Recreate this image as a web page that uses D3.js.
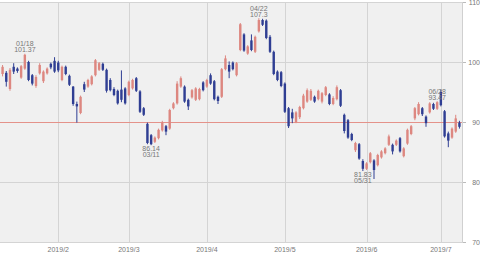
<!DOCTYPE html>
<html>
<head>
<meta charset="utf-8">
<script src="https://cdn.jsdelivr.net/npm/d3@7/dist/d3.min.js"></script>
<style>
body { margin:0; background:#fff; }
svg { display:block; }
text { font-family: "Liberation Sans", Arial, sans-serif; font-size:7px; fill:#777; }
</style>
</head>
<body>
<div id="chart-area"></div>
<script>
// trading days shown
var dates = [
 "2019-01-10","2019-01-11","2019-01-14","2019-01-15","2019-01-16","2019-01-17","2019-01-18",
 "2019-01-22","2019-01-23","2019-01-24","2019-01-25","2019-01-28","2019-01-29","2019-01-30","2019-01-31",
 "2019-02-01","2019-02-04","2019-02-05","2019-02-06","2019-02-07","2019-02-08","2019-02-11","2019-02-12",
 "2019-02-13","2019-02-14","2019-02-15","2019-02-19","2019-02-20","2019-02-21","2019-02-22","2019-02-25",
 "2019-02-26","2019-02-27","2019-02-28",
 "2019-03-01","2019-03-04","2019-03-05","2019-03-06","2019-03-07","2019-03-08","2019-03-11","2019-03-12",
 "2019-03-13","2019-03-14","2019-03-15","2019-03-18","2019-03-19","2019-03-20","2019-03-21","2019-03-22",
 "2019-03-25","2019-03-26","2019-03-27","2019-03-28","2019-03-29",
 "2019-04-01","2019-04-02","2019-04-03","2019-04-04","2019-04-05","2019-04-08","2019-04-09","2019-04-10",
 "2019-04-11","2019-04-12","2019-04-15","2019-04-16","2019-04-17","2019-04-18","2019-04-22","2019-04-23",
 "2019-04-24","2019-04-25","2019-04-26","2019-04-29","2019-04-30",
 "2019-05-01","2019-05-02","2019-05-03","2019-05-06","2019-05-07","2019-05-08","2019-05-09","2019-05-10",
 "2019-05-13","2019-05-14","2019-05-15","2019-05-16","2019-05-17","2019-05-20","2019-05-21","2019-05-22",
 "2019-05-23","2019-05-24","2019-05-28","2019-05-29","2019-05-30","2019-05-31",
 "2019-06-03","2019-06-04","2019-06-05","2019-06-06","2019-06-07","2019-06-10","2019-06-11","2019-06-12",
 "2019-06-13","2019-06-14","2019-06-17","2019-06-18","2019-06-19","2019-06-20","2019-06-21","2019-06-24",
 "2019-06-25","2019-06-26","2019-06-27","2019-06-28",
 "2019-07-01","2019-07-02","2019-07-03","2019-07-05","2019-07-08","2019-07-09"
];

var opens = [
 98.0,98.2,95.5,99.2,98.9,97.4,98.9, 100.0,97.8,96.0,98.1,96.8,98.1,99.7,100.2,
 99.9,97.0,99.2,97.7,95.9,93.0,91.5,96.3, 95.9,96.3,97.8,98.7,99.7,98.7,97.0,95.5, 95.2,95.4,95.6,
 94.5,95.6,97.3,95.1,92.3,89.7,87.8,86.7, 87.3,88.6,89.3,88.9,92.3,93.1,95.9,95.9, 93.7,94.1,93.7,93.8,96.6,
 95.9,97.8,96.8,94.2,94.2,98.8,99.5,99.9, 97.8,102.0,104.6,101.4,103.6,101.7,105.1,107.0, 106.9,104.2,101.7,98.4,98.3,
 96.4,92.3,91.6,90.0,90.8,92.3,93.4,93.7, 94.2,93.8,93.4,94.5,94.6,93.0,93.8,95.3, 91.2,90.3,88.0,85.3,86.3,83.5,
 82.2,83.3,83.6,82.8,84.1,84.8,86.2,86.2, 86.2,87.3,84.3,86.4,88.0,90.6,91.3,92.3, 90.9,91.6,93.0,92.2,
 95.0,91.8,88.1,87.4,88.4,89.9
];
var highs = [
 99.5,98.5,99.0,99.8,99.1,99.5,101.37, 100.2,98.0,97.8,99.8,98.6,99.1,99.9,100.8,
 100.2,99.4,99.4,97.9,96.0,93.4,94.4,96.7, 97.2,97.8,100.5,100.0,99.9,98.9,97.3,95.8, 95.4,98.6,95.8,
 96.9,97.2,97.5,95.3,92.5,89.9,88.0,87.6, 88.9,90.2,89.5,92.2,93.3,96.8,97.6,96.1, 93.9,95.5,95.8,95.7,96.8,
 97.2,98.1,97.0,94.4,99.0,101.1,100.1,100.1, 100.0,106.5,104.8,102.8,104.6,104.4,107.3,107.2, 107.1,104.5,101.9,98.6,98.5,
 96.6,92.5,92.2,91.8,92.7,94.7,95.6,95.5, 94.4,95.4,95.0,96.0,94.8,94.3,96.1,95.5, 91.4,90.5,88.2,86.7,86.5,83.8,
 83.3,85.0,83.8,84.7,85.3,85.8,87.9,86.4, 87.1,87.5,85.8,88.9,89.5,92.5,93.3,92.5, 91.1,93.3,93.2,93.47,
 95.4,92.0,88.4,89.1,91.2,90.2
];
var lows = [
 97.6,95.9,95.2,98.0,98.2,97.2,98.7, 96.8,96.1,95.7,97.9,96.5,97.9,98.8,98.2,
 98.3,96.8,97.8,96.0,92.7,89.9,91.3,95.0, 95.7,96.1,97.6,98.5,98.5,94.9,95.1,94.3, 92.9,93.3,92.9,
 94.3,95.4,95.0,91.5,91.0,86.3,86.14,86.5, 87.1,88.4,87.8,88.7,92.1,92.9,95.7,93.2, 92.0,93.9,93.5,93.6,95.1,
 95.7,96.2,93.6,93.0,94.0,98.6,97.3,98.6, 97.6,101.8,101.7,101.2,101.8,101.5,104.9,106.0, 103.8,101.5,97.8,96.8,95.8,
 91.5,89.0,89.8,89.8,90.5,92.1,93.2,93.5, 93.2,93.6,93.1,94.3,92.8,92.8,93.6,92.5, 88.1,87.2,86.8,85.0,83.7,81.83,
 82.0,83.1,80.5,82.6,83.9,84.6,86.0,84.6, 86.0,84.9,84.1,86.2,87.8,90.3,91.1,91.0, 89.2,91.4,92.0,92.0,
 92.6,87.4,85.8,87.2,88.2,88.9
];
var closes = [
 99.2,96.7,98.7,98.4,98.5,99.3,101.2, 97.0,96.4,97.5,99.5,98.4,98.9,99.1,98.4,
 98.6,99.2,98.0,96.2,93.0,92.6,94.2,95.4, 97.0,97.6,100.3,99.8,98.7,95.2,95.3,94.5, 93.1,93.7,93.1,
 96.7,97.0,95.2,91.7,91.2,86.5,86.3,87.4, 88.7,89.9,88.4,92.0,93.1,96.4,97.3,93.4, 92.6,95.3,95.6,95.5,95.3,
 97.0,96.4,93.8,93.5,98.8,100.6,98.4,98.8, 99.8,106.3,101.9,102.6,102.0,104.2,107.0,106.2, 104.0,101.7,98.0,97.0,96.0,
 91.7,89.3,90.6,91.6,92.5,94.4,95.3,95.2, 93.4,95.2,94.8,95.8,93.0,94.0,95.8,92.7, 88.5,87.4,87.0,86.5,83.9,82.2,
 83.1,84.8,82.0,84.5,85.1,85.6,87.6,85.1, 86.9,85.1,85.6,88.7,89.3,92.3,93.0,91.3, 89.8,93.1,92.2,93.3,
 92.8,87.6,86.9,88.9,90.6,89.2
];

// axis ticks
var yTicks = [70, 80, 90, 100, 110];
var monthTicks = ["2019-02-01","2019-03-01","2019-04-01","2019-05-01","2019-06-03","2019-07-01"];
var monthLabels = ["2019/2","2019/3","2019/4","2019/5","2019/6","2019/7"];

// reference line
var refLevel = 90.05;

// marked extremes
var markDates = ["2019-01-18","2019-03-11","2019-04-22","2019-05-31","2019-06-28"];
var markValues = ["101.37","86.14","107.3","81.83","93.47"];
var markLabels = ["01/18","03/11","04/22","05/31","06/28"];
var markSide = ["top","bottom","top","bottom","top"];

var width = 480, height = 254, plotW = 463;

var svg = d3.select("#chart-area").append("svg")
    .attr("width", width)
    .attr("height", height);

var x = d3.scaleBand().domain(dates).range([0.7, 461.3]);
var y = d3.scaleLinear().domain([70, 110]).range([242, 2]);
var bw = x.bandwidth();

var candles = dates.map(function(d, i) {
    return { date: d, o: opens[i], h: highs[i], l: lows[i], c: closes[i] };
});

// plot background
svg.append("rect")
    .attr("x", 0)
    .attr("y", y(110))
    .attr("width", plotW)
    .attr("height", y(70) - y(110))
    .attr("fill", "#f0f0f0");

// horizontal grid
svg.append("g").selectAll("line")
    .data(yTicks)
    .enter().append("line")
    .attr("x1", 0).attr("x2", plotW)
    .attr("y1", function(d) { return Math.round(y(d)) + 0.5; })
    .attr("y2", function(d) { return Math.round(y(d)) + 0.5; })
    .attr("stroke", "#d4d4d4");

// vertical grid
svg.append("g").selectAll("line")
    .data(monthTicks)
    .enter().append("line")
    .attr("x1", function(d) { return Math.round(x(d) + bw / 2) + 0.5; })
    .attr("x2", function(d) { return Math.round(x(d) + bw / 2) + 0.5; })
    .attr("y1", y(110)).attr("y2", y(70))
    .attr("stroke", "#d4d4d4");

// right border
svg.append("line")
    .attr("x1", plotW - 0.5).attr("x2", plotW - 0.5)
    .attr("y1", y(110)).attr("y2", y(70))
    .attr("stroke", "#d0d0d0");

// y axis on the right
var yAxis = svg.append("g")
    .attr("transform", "translate(" + plotW + ",0)")
    .call(d3.axisRight(y).tickValues(yTicks).tickSize(3).tickPadding(14));
yAxis.select(".domain").remove();
yAxis.selectAll(".tick line").attr("stroke", "#bbb");
yAxis.selectAll(".tick text")
    .attr("text-anchor", "end")
    .attr("fill", "#777")
    .style("font-size", "7px")
    .style("font-family", "'Liberation Sans', Arial, sans-serif");

// x axis month labels
var xAxis = svg.append("g")
    .attr("transform", "translate(0," + y(70) + ")")
    .call(d3.axisBottom(x).tickValues(monthTicks).tickSize(0).tickPadding(5)
        .tickFormat(function(d, i) { return monthLabels[i]; }));
xAxis.select(".domain").remove();
xAxis.selectAll(".tick text")
    .attr("fill", "#777")
    .style("font-size", "7px")
    .style("font-family", "'Liberation Sans', Arial, sans-serif");

// reference line
svg.append("line")
    .attr("x1", 0).attr("x2", plotW - 1)
    .attr("y1", Math.round(y(refLevel)) + 0.5)
    .attr("y2", Math.round(y(refLevel)) + 0.5)
    .attr("stroke", "#e4928a");

var upColor = "#dd8780", downColor = "#2f3e93";
var bodyW = 2.4;

var cg = svg.append("g");

// wicks
cg.selectAll(".wick")
    .data(candles)
    .enter().append("line")
    .attr("class", "wick")
    .attr("x1", function(d) { return x(d.date) + bw / 2; })
    .attr("x2", function(d) { return x(d.date) + bw / 2; })
    .attr("y1", function(d) { return y(d.h); })
    .attr("y2", function(d) { return y(d.l); })
    .attr("stroke", function(d) { return d.c >= d.o ? upColor : downColor; })
    .attr("stroke-width", 1);

// bodies
cg.selectAll(".body")
    .data(candles)
    .enter().append("rect")
    .attr("class", "body")
    .attr("x", function(d) { return x(d.date) + bw / 2 - bodyW / 2; })
    .attr("y", function(d) { return y(Math.max(d.o, d.c)); })
    .attr("width", bodyW)
    .attr("height", function(d) { return Math.max(1, Math.abs(y(d.o) - y(d.c))); })
    .attr("fill", function(d) { return d.c >= d.o ? upColor : downColor; });

// high / low marks
markDates.forEach(function(md, i) {
    var d = candles[dates.indexOf(md)];
    var cx = x(md) + bw / 2;
    var g = svg.append("g").attr("text-anchor", "middle");
    if (markSide[i] == "top") {
        g.append("text").attr("x", cx).attr("y", y(d.h) - 7.5).text(markLabels[i]);
        g.append("text").attr("x", cx).attr("y", y(d.h) - 1.5).text(markValues[i]);
    } else {
        g.append("text").attr("x", cx).attr("y", y(d.l) + 5.5).text(markValues[i]);
        g.append("text").attr("x", cx).attr("y", y(d.l) + 11.5).text(markLabels[i]);
    }
});
</script>
</body>
</html>
